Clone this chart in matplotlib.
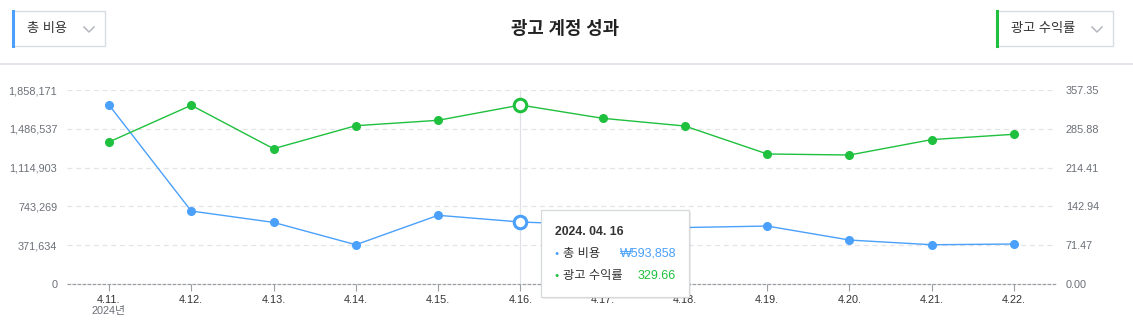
import matplotlib
matplotlib.use('Agg')
import matplotlib.pyplot as plt
from matplotlib.patches import Rectangle
from matplotlib.lines import Line2D

plt.rcParams['font.family'] = ['Liberation Sans', 'Noto Sans CJK KR']

# data
dates = ['4.11.', '4.12.', '4.13.', '4.14.', '4.15.', '4.16.',
         '4.17.', '4.18.', '4.19.', '4.20.', '4.21.', '4.22.']
cost = [1715000, 699000, 590000, 376000, 658000, 593858,
        565000, 541000, 555000, 421000, 376000, 383000]
roas = [261.6, 329.2, 249.2, 291.6, 301.5, 329.66,
        305.2, 291.0, 239.5, 237.6, 266.0, 275.8]
left_ticks = [0, 371634, 743269, 1114903, 1486537, 1858171]
right_ticks = [0.00, 71.47, 142.94, 214.41, 285.88, 357.35]
hover = 5

BLUE = '#4aa0fa'
GREEN = '#1fc03e'
TICK_GRAY = '#6b6f76'
GRID = '#e2e4e8'

W, H = 1133, 336
fig = plt.figure(figsize=(W / 100, H / 100), dpi=100)


def fx(x):
    return x / W


def fy(y):
    return (H - y) / H


# ---- header ----
fig.text(fx(565), fy(29), '광고 계정 성과', ha='center', va='center',
         fontsize=12.8, fontweight='bold', color='#222222')
fig.add_artist(Line2D([0, 1], [fy(64), fy(64)], color='#dcdfe5', lw=1.2,
                      transform=fig.transFigure))


def dropdown(x0, x1, label, col):
    fig.add_artist(Rectangle((fx(x0), fy(46)), fx(x1 - x0), (46 - 11) / H,
                             transform=fig.transFigure, facecolor='white',
                             edgecolor='#d9dce1', lw=1))
    fig.add_artist(Line2D([fx(x0), fx(x0)], [fy(46), fy(11)], color=col,
                          lw=2.2, transform=fig.transFigure))
    fig.text(fx(x0 + 14), fy(29), label, ha='left', va='center',
             fontsize=9.5, color='#333333')
    cx = x1 - 16
    fig.add_artist(Line2D([fx(cx - 5), fx(cx), fx(cx + 5)],
                          [fy(27), fy(32), fy(27)], color='#b4b8be',
                          lw=1.1, transform=fig.transFigure))


dropdown(13, 105, '총 비용', BLUE)
dropdown(997, 1113, '광고 수익률', GREEN)

# ---- chart ----
ax = fig.add_axes([fx(67), fy(284), fx(1056 - 67), (284 - 90) / H])
ax2 = ax.twinx()
x = list(range(len(dates)))

ax.set_xlim(-0.51, len(dates) - 0.49)
ax.set_ylim(0, left_ticks[-1])
ax2.set_ylim(0, right_ticks[-1])

for t in left_ticks[1:]:
    ax.axhline(t, color=GRID, lw=0.9, ls=(0, (4, 3)), zorder=0)
ax.axvline(hover, color='#dfe1e6', lw=0.9, zorder=1)

ax.plot(x, cost, color=BLUE, lw=1.0, marker='o', ms=5.5, zorder=3)
ax2.plot(x, roas, color=GREEN, lw=1.0, marker='o', ms=5.5, zorder=3)
ax.plot(hover, cost[hover], marker='o', ms=9, mfc='white', mec=BLUE,
        mew=2.2, zorder=4)
ax2.plot(hover, roas[hover], marker='o', ms=9, mfc='white', mec=GREEN,
         mew=2.2, zorder=4)

for a in (ax, ax2):
    for s in a.spines.values():
        s.set_visible(False)
ax.axhline(0, color='#9a9ea5', lw=0.9, ls=(0, (3, 1)), zorder=2, clip_on=False)

ax.set_yticks(left_ticks)
ax.set_yticklabels([f'{v:,}' for v in left_ticks])
ax2.set_yticks(right_ticks)
ax2.set_yticklabels([f'{v:.2f}' for v in right_ticks])
ax.tick_params(axis='y', length=0, pad=7, labelsize=7.8, labelcolor=TICK_GRAY)
ax2.tick_params(axis='y', length=0, pad=7, labelsize=7.8, labelcolor=TICK_GRAY)

ax.set_xticks(x)
ax.set_xticklabels(dates)
ax.tick_params(axis='x', length=5, width=0.8, color='#9a9ea5', pad=3,
               labelsize=7.8, labelcolor='#333333')
# year under the first date
ax.annotate('2024년', (0, 0), xytext=(0, -21.5), textcoords='offset points',
            ha='center', va='baseline', fontsize=7.8, color='#6b6f76',
            annotation_clip=False)

# ---- tooltip anchored at the hovered point ----
fig.canvas.draw()
px, py = ax.transData.transform((hover, cost[hover]))
tx0 = px + 21
ty_top = py + 12
tw, th = 148, 87
fig.add_artist(Rectangle(((tx0 + 2) / W, (ty_top - th - 2) / H), tw / W, th / H,
                         transform=fig.transFigure, facecolor='#00000012',
                         edgecolor='none', zorder=9))
fig.add_artist(Rectangle((tx0 / W, (ty_top - th) / H), tw / W, th / H,
                         transform=fig.transFigure, facecolor='white',
                         edgecolor='#d6d8dc', lw=0.9, zorder=10))
fig.text((tx0 + 14) / W, (ty_top - 22) / H, '2024. 04. 16', ha='left',
         va='center', fontsize=8.8, fontweight='bold', color='#333333',
         zorder=11)
rows = [('총 비용', f'₩{cost[hover]:,}', BLUE),
        ('광고 수익률', f'{roas[hover]:.2f}', GREEN)]
for i, (name, val, col) in enumerate(rows):
    yy = (ty_top - 44 - 22 * i) / H
    fig.text((tx0 + 13) / W, yy, '●', ha='left', va='center', fontsize=5,
             color=col, zorder=11)
    fig.text((tx0 + 22) / W, yy, name, ha='left', va='center', fontsize=8.8,
             color='#333333', zorder=11)
    vx = tx0 + (79 if i == 0 else 96)
    fig.text(vx / W, yy, val, ha='left', va='center', fontsize=9,
             color=col, zorder=11)

fig.savefig('out.png', dpi=100)
